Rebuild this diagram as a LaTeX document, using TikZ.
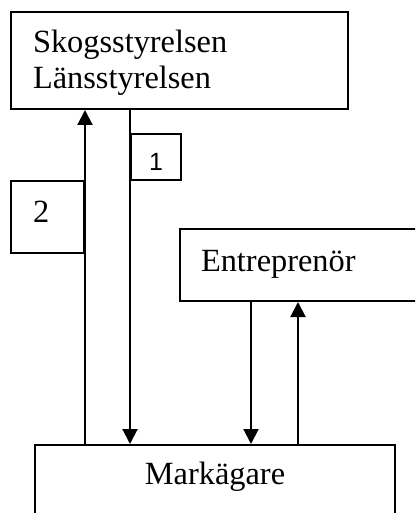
\documentclass[tikz,border=0pt]{standalone}
\usepackage{fontspec}
\setmainfont{Liberation Serif}
\newfontfamily\arialfont{Liberation Sans}
\usetikzlibrary{arrows.meta}

\begin{document}
\begin{tikzpicture}[x=1bp,y=-1bp,
    box/.style={draw,line width=2bp,rectangle,inner sep=0pt,anchor=north west,
      align=left,font=\fontsize{32.5}{36}\selectfont},
    pil/.style={line width=2bp,-{Triangle[width=15bp,length=15bp]}}]
    \useasboundingbox (0,0) rectangle (415,513);
    \clip (0,0) rectangle (415,513);
    % Draw boxes
    \node[box,text width=293bp,minimum width=337bp,text height=41bp,text depth=56bp] (myndighet) at (10,11) {Skogsstyrelsen\\Länsstyrelsen};
    \node[box,text width=29bp,minimum width=73bp,text height=41bp,text depth=31bp] (tva) at (10,180) {2};
    \node[box,align=center,minimum width=50bp,text height=36bp,text depth=10bp,font=\arialfont\fontsize{25}{28}\selectfont] (ett) at (130,133) {1};
    \node[box,text width=204bp,minimum width=246bp,text height=42bp,text depth=30bp] (entreprenor) at (179,228) {Entreprenör};
    \node[box,align=center,minimum width=360bp,text height=39bp,text depth=80bp] (markagare) at (34,444) {Markägare};
    % Arrows between entrepreneur and land owner
    \coordinate (ned) at (251,0);
    \coordinate (upp) at (298,0);
    % Draw arrows
    \draw[pil] (markagare.north -| tva.east) -- (myndighet.south -| tva.east); % 2
    \draw[pil] (myndighet.south -| ett.west) -- (markagare.north -| ett.west); % 1
    \draw[pil] (entreprenor.south -| ned) -- (markagare.north -| ned);
    \draw[pil] (markagare.north -| upp) -- (entreprenor.south -| upp);
\end{tikzpicture}
\end{document}
